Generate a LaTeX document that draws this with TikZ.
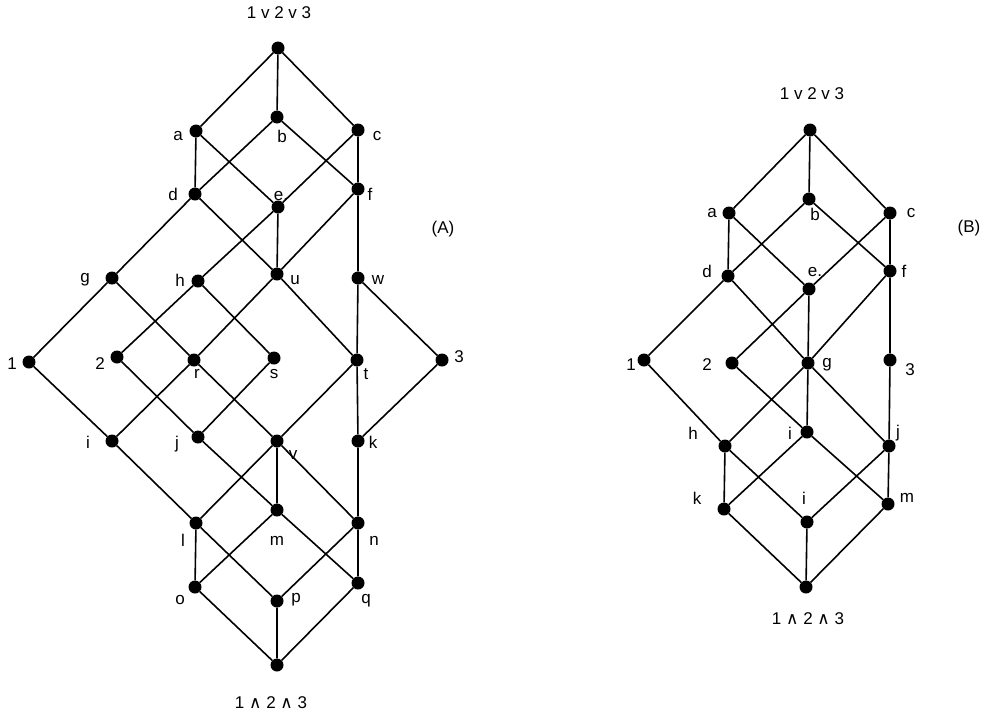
\documentclass[tikz,border=0pt]{standalone}
\usepackage{fontspec}
\setmainfont{Liberation Sans}
\newfontfamily\dvsans{DejaVu Sans}
\begin{document}
\begin{tikzpicture}[x=1pt,y=-1pt,
  vx/.style={circle,fill=black,inner sep=0pt,minimum size=13pt},
  lbl/.style={inner sep=0pt,font=\fontsize{17}{20}\selectfont},
  edge/.style={line width=1.6pt,black}]
\useasboundingbox[fill=white] (0,0) rectangle (984,715);
% ---------------- Diagram A ----------------
\node[vx] (Atop) at (278,48) {};
\node[vx] (Aa) at (196,131) {};
\node[vx] (Ab) at (277,117) {};
\node[vx] (Ac) at (358,130) {};
\node[vx] (Ad) at (195,194) {};
\node[vx] (Ae) at (278,207) {};
\node[vx] (Af) at (358,189) {};
\node[vx] (Ag) at (112,278) {};
\node[vx] (Ah) at (198,281) {};
\node[vx] (Au) at (277,274) {};
\node[vx] (Aw) at (358,278) {};
\node[vx] (A1) at (29,362) {};
\node[vx] (A2) at (117,357) {};
\node[vx] (Ar) at (194,360) {};
\node[vx] (As) at (274,358) {};
\node[vx] (At) at (357,360) {};
\node[vx] (A3) at (442,360) {};
\node[vx] (Ai) at (112,441) {};
\node[vx] (Aj) at (198,437) {};
\node[vx] (Av) at (277,441) {};
\node[vx] (Ak) at (358,441) {};
\node[vx] (Al) at (196,523) {};
\node[vx] (Am) at (277,510) {};
\node[vx] (An) at (358,523) {};
\node[vx] (Ao) at (195,587) {};
\node[vx] (Ap) at (277,601) {};
\node[vx] (Aq) at (358,583) {};
\node[vx] (Abot) at (277,665) {};
\draw[edge] (Atop)--(Aa) (Atop)--(Ab) (Atop)--(Ac)
  (Aa)--(Ad) (Aa)--(Ae) (Ab)--(Ad) (Ab)--(Af) (Ac)--(Ae) (Ac)--(Af)
  (Ad)--(Ag) (Ad)--(Au) (Ae)--(Ah) (Ae)--(Au) (Af)--(Au) (Af)--(Aw)
  (Ag)--(A1) (Ag)--(Ar) (Ah)--(A2) (Ah)--(As) (Au)--(Ar) (Au)--(At)
  (Aw)--(At) (Aw)--(A3)
  (A1)--(Ai) (Ar)--(Ai) (A2)--(Aj) (As)--(Aj) (Ar)--(Av) (At)--(Av)
  (At)--(Ak) (A3)--(Ak)
  (Ai)--(Al) (Aj)--(Am) (Av)--(Al) (Av)--(Am) (Av)--(An) (Ak)--(An)
  (Al)--(Ao) (Al)--(Ap) (Am)--(Ao) (Am)--(Aq) (An)--(Ap) (An)--(Aq)
  (Ao)--(Abot) (Ap)--(Abot) (Aq)--(Abot);
\node[lbl] (LAtop) at (279,13) {1 v 2 v 3};
\node[lbl] (LAbot) at (271,703) {1 {\dvsans ∧} 2 {\dvsans ∧} 3};
\node[lbl] (LAtag) at (443,229) {(A)};
\node[lbl] (LAa) at (178,136) {a};
\node[lbl] (LAb) at (282,136) {b};
\node[lbl] (LAc) at (377,136) {c};
\node[lbl] (LAd) at (173,194) {d};
\node[lbl] (LAe) at (281,196) {e.};
\node[lbl] (LAf) at (370,194) {f};
\node[lbl] (LAg) at (85,280) {g};
\node[lbl] (LAh) at (180,280) {h};
\node[lbl] (LAu) at (295,280) {u};
\node[lbl] (LAw) at (378,280) {w};
\node[lbl] (LA1) at (12,364) {1};
\node[lbl] (LA2) at (100,364) {2};
\node[lbl] (LAr) at (197,374) {r};
\node[lbl] (LAs) at (274,374) {s};
\node[lbl] (LAt) at (366,374) {t};
\node[lbl] (LA3) at (459,357) {3};
\node[lbl] (LAi) at (88,442) {i};
\node[lbl] (LAj) at (177,444) {j};
\node[lbl] (LAv) at (293,455) {v};
\node[lbl] (LAk) at (373,442) {k};
\node[lbl] (LAl) at (183,540) {l};
\node[lbl] (LAm) at (277,541) {m};
\node[lbl] (LAn) at (374,541) {n};
\node[lbl] (LAo) at (180,600) {o};
\node[lbl] (LAp) at (296,600) {p};
\node[lbl] (LAq) at (366,601) {q};
% ---------------- Diagram B ----------------
\node[vx] (Btop) at (810,130) {};
\node[vx] (Ba) at (729,213) {};
\node[vx] (Bb) at (809,199) {};
\node[vx] (Bc) at (890,213) {};
\node[vx] (Bd) at (728,276) {};
\node[vx] (Be) at (809,289) {};
\node[vx] (Bf) at (890,271) {};
\node[vx] (B1) at (644,360) {};
\node[vx] (B2) at (732,363) {};
\node[vx] (Bg) at (808,363) {};
\node[vx] (B3) at (890,360) {};
\node[vx] (Bh) at (725,446) {};
\node[vx] (Bi) at (807,432) {};
\node[vx] (Bj) at (889,446) {};
\node[vx] (Bk) at (724,509) {};
\node[vx] (Bii) at (807,522) {};
\node[vx] (Bm) at (888,504) {};
\node[vx] (Bbot) at (806,587) {};
\draw[edge] (Btop)--(Ba) (Btop)--(Bb) (Btop)--(Bc)
  (Ba)--(Bd) (Ba)--(Be) (Bb)--(Bd) (Bb)--(Bf) (Bc)--(Be) (Bc)--(Bf)
  (Bd)--(B1) (Bd)--(Bg) (Be)--(B2) (Be)--(Bg) (Bf)--(Bg) (Bf)--(B3)
  (B1)--(Bh) (B2)--(Bi) (Bg)--(Bh) (Bg)--(Bi) (Bg)--(Bj) (B3)--(Bj)
  (Bh)--(Bk) (Bh)--(Bii) (Bi)--(Bk) (Bi)--(Bm) (Bj)--(Bii) (Bj)--(Bm)
  (Bk)--(Bbot) (Bii)--(Bbot) (Bm)--(Bbot);
\node[lbl] (LBtop) at (812,94) {1 v 2 v 3};
\node[lbl] (LBbot) at (808,619) {1 {\dvsans ∧} 2 {\dvsans ∧} 3};
\node[lbl] (LBtag) at (969,228) {(B)};
\node[lbl] (LBa) at (712,213) {a};
\node[lbl] (LBb) at (815,214) {b};
\node[lbl] (LBc) at (911,213) {c};
\node[lbl] (LBd) at (707,271) {d};
\node[lbl] (LBe) at (815,272) {e.};
\node[lbl] (LBf) at (904,271) {f};
\node[lbl] (LB1) at (631,365) {1};
\node[lbl] (LB2) at (707,365) {2};
\node[lbl] (LBg) at (827,365) {g};
\node[lbl] (LB3) at (910,370) {3};
\node[lbl] (LBh) at (693,433) {h};
\node[lbl] (LBi) at (790,433) {i};
\node[lbl] (LBj) at (898,433) {j};
\node[lbl] (LBk) at (697,498) {k};
\node[lbl] (LBii) at (804,498) {i};
\node[lbl] (LBm) at (907,498) {m};
\end{tikzpicture}
\end{document}
